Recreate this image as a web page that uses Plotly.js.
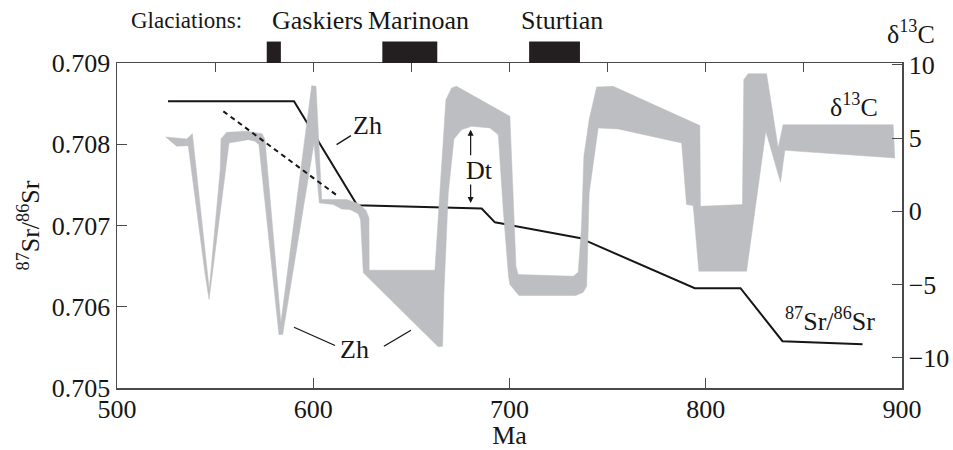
<!DOCTYPE html>
<html>
<head>
<meta charset="utf-8">
<script src="https://cdn.plot.ly/plotly-3.0.1.min.js"></script>
<style>
  html, body { margin: 0; padding: 0; background: #ffffff; }
  #chart { width: 953px; height: 450px; }
</style>
</head>
<body>
<div id="chart"></div>
<script>
// ---- Data ----
// 87Sr/86Sr curve (left axis)
const srAge   = [526.0, 590.2, 622.4, 685.8, 692.6, 735.7, 794.4, 817.7, 839.1, 879.9];
const srRatio = [0.708528, 0.708528, 0.707248, 0.707208, 0.707039, 0.706847, 0.706228, 0.706228, 0.705576, 0.705539];

// alternative (dashed) Sr segment
const srAltAge   = [554.2, 612.7];
const srAltRatio = [0.708405, 0.707359];

// d13C envelope (right axis): upper boundary and lower boundary
const d13cUpperAge = [524.8, 535.5, 538.4, 547.0, 552.6, 553.0, 555.9, 566.1, 574.0, 575.4, 583.5, 599.2, 601.4, 604.3, 617.0, 622.9, 626.8, 628.4, 628.5, 662.0, 664.5, 667.6, 670.5, 673.0, 700.2, 701.6, 703.3, 704.4, 732.5, 735.0, 736.7, 737.9, 740.6, 744.4, 752.8, 797.0, 797.3, 818.7, 819.4, 821.6, 831.0, 836.9, 839.4, 895.5];
const d13cUpper    = [5.07, 4.94, 5.30, -5.34, 2.84, 4.94, 5.39, 5.46, 5.30, 4.89, -7.61, 8.57, 8.53, 0.80, 0.80, 0.53, 0.07, -0.45, -4.02, -4.02, 1.25, 7.62, 8.42, 8.53, 6.48, 1.25, -3.75, -4.32, -4.43, -4.16, -1.02, 3.75, 6.26, 8.48, 8.53, 5.85, 0.34, 0.46, 8.98, 9.39, 9.39, 4.32, 5.91, 5.91];
const d13cLowerAge = [524.8, 530.4, 536.3, 544.8, 546.9, 555.4, 557.1, 566.9, 570.3, 572.3, 582.5, 584.4, 600.4, 603.1, 610.2, 614.5, 618.7, 622.9, 624.1, 625.5, 663.7, 665.9, 666.6, 668.8, 671.7, 675.6, 680.7, 690.0, 694.3, 696.8, 699.5, 700.2, 704.8, 733.8, 737.6, 739.3, 740.6, 745.2, 755.4, 787.7, 790.2, 793.6, 796.5, 820.8, 830.6, 838.1, 840.3, 896.3];
const d13cLower    = [5.07, 4.44, 4.48, -4.20, -6.02, 2.84, 4.66, 4.89, 4.78, 4.55, -8.41, -8.41, 4.66, 0.57, 0.46, 0.16, 0.12, -0.16, -0.57, -4.20, -9.25, -9.21, -5.57, 1.25, 4.94, 5.57, 5.80, 5.69, 5.23, 0.12, -4.43, -5.00, -5.75, -5.75, -5.52, -5.11, 1.25, 5.69, 5.62, 4.66, 0.46, 0.39, -4.09, -4.09, 5.46, 1.98, 4.16, 3.64];

// glaciations (Ma)
const glaciationNames = ['Gaskiers', 'Marinoan', 'Sturtian'];
const glaciationStart = [576.3, 635.2, 710.0];
const glaciationEnd   = [583.5, 663.2, 735.9];

// axis ticks
const ageTicks = [500, 600, 700, 800, 900];
const srTicks  = [0.705, 0.706, 0.707, 0.708, 0.709];
const d13cTicks = [-10, -5, 0, 5, 10];

// ---- Drawing ----
const FONT = '"Liberation Serif", "Times New Roman", Times, serif';
const AX = '#4a4a4a';
const INK = '#161616';

const bandX = d13cUpperAge.concat(d13cLowerAge.slice().reverse());
const bandY = d13cUpper.concat(d13cLower.slice().reverse());

const traces = [
  {
    x: bandX, y: bandY, xaxis: 'x', yaxis: 'y2',
    mode: 'lines', fill: 'toself', fillcolor: '#bdbec1',
    line: { width: 0.5, color: '#bdbec1' }, hoverinfo: 'skip', showlegend: false
  },
  {
    x: srAge, y: srRatio, xaxis: 'x', yaxis: 'y',
    mode: 'lines', line: { color: INK, width: 2 }, showlegend: false
  },
  {
    x: srAltAge, y: srAltRatio, xaxis: 'x2', yaxis: 'y',
    mode: 'lines', line: { color: INK, width: 2, dash: '5px,4px' }, showlegend: false
  }
];

const shapes = [];
for (let i = 0; i < glaciationNames.length; i++) {
  shapes.push({
    type: 'rect', xref: 'x', yref: 'paper',
    x0: glaciationStart[i], x1: glaciationEnd[i], y0: 1.0, y1: 1.066,
    fillcolor: '#231f20', line: { width: 0 }, layer: 'above'
  });
}
// leader lines for "Zh"
const leader = (x0, y0, x1, y1) => ({ type: 'line', xref: 'x', yref: 'y', x0, y0, x1, y1, line: { color: INK, width: 1.3 } });
shapes.push(leader(611.9, 0.707995, 619.2, 0.708106));
shapes.push(leader(590.2, 0.705748, 611.1, 0.705523));
shapes.push(leader(636.0, 0.705514, 649.8, 0.705711));

const txt = (text, x, y, extra) => Object.assign({
  text, x, y, xref: 'x', yref: 'y', showarrow: false,
  font: { family: FONT, size: 26, color: INK }, xanchor: 'center', yanchor: 'middle'
}, extra || {});

const annotations = [
  txt('Zh', 627.6, 0.708230),
  txt('Zh', 621.2, 0.705478),
  txt('Dt', 684.8, 0.707680),
  txt('δ<sup>13</sup>C', 875.4, 0.708480),
  txt('<sup>87</sup>Sr/<sup>86</sup>Sr', 863.5, 0.705840),
  // Dt arrows
  { x: 680.2, y: 0.708180, xref: 'x', yref: 'y', text: '', showarrow: true, ax: 0, ay: 27,
    arrowhead: 2, arrowsize: 1, arrowwidth: 1.2, arrowcolor: INK },
  { x: 680.2, y: 0.707278, xref: 'x', yref: 'y', text: '', showarrow: true, ax: 0, ay: -20,
    arrowhead: 2, arrowsize: 1, arrowwidth: 1.2, arrowcolor: INK },
  // top labels
  txt('Glaciations:', 0.1613, 1.130, { xref: 'paper', yref: 'paper', xanchor: 'right',
    font: { family: FONT, size: 23, color: INK } }),
  txt('δ<sup>13</sup>C', 1.0115, 1.093, { xref: 'paper', yref: 'paper' })
];
const glaciationLabelX = [0.2554, 0.3838, 0.5675];
for (let i = 0; i < glaciationNames.length; i++) {
  annotations.push(txt(glaciationNames[i], glaciationLabelX[i], 1.130, { xref: 'paper', yref: 'paper' }));
}

const tickFont = { family: FONT, size: 26, color: INK };

const layout = {
  width: 953, height: 450,
  margin: { l: 117, r: 51, t: 63, b: 62 },
  paper_bgcolor: '#ffffff', plot_bgcolor: '#ffffff',
  font: { family: FONT, size: 26, color: INK },
  showlegend: false,
  xaxis: {
    range: [500, 900], tickvals: ageTicks, ticks: 'inside', ticklen: 10, tickwidth: 1, tickcolor: AX,
    showline: true, linecolor: AX, linewidth: 1.5, showgrid: false, zeroline: false,
    tickfont: tickFont, ticklabelstandoff: -3,
    title: { text: 'Ma', font: { family: FONT, size: 26, color: INK }, standoff: 12 }
  },
  xaxis2: {
    overlaying: 'x', side: 'top', range: [500, 900], tick0: 500, dtick: 50,
    ticks: 'inside', ticklen: 9, tickwidth: 1, tickcolor: AX, showticklabels: false,
    showline: true, linecolor: AX, linewidth: 1.5, showgrid: false, zeroline: false
  },
  yaxis: {
    range: [0.705, 0.709], tickvals: srTicks, tickformat: '.3f',
    ticks: 'inside', ticklen: 10, tickwidth: 1, tickcolor: AX,
    showline: true, linecolor: AX, linewidth: 1.5, showgrid: false, zeroline: false,
    tickfont: tickFont,
    title: { text: '<sup>87</sup>Sr/<sup>86</sup>Sr', font: { family: FONT, size: 26, color: INK }, standoff: 4 }
  },
  yaxis2: {
    overlaying: 'y', side: 'right', range: [-12.06, 10.12], tickvals: d13cTicks,
    ticks: 'inside', ticklen: 10, tickwidth: 1, tickcolor: AX,
    showline: true, linecolor: AX, linewidth: 1.5, showgrid: false, zeroline: false,
    tickfont: tickFont
  },
  shapes, annotations
};

Plotly.newPlot('chart', traces, layout, { displayModeBar: false, staticPlot: true });
</script>
</body>
</html>
